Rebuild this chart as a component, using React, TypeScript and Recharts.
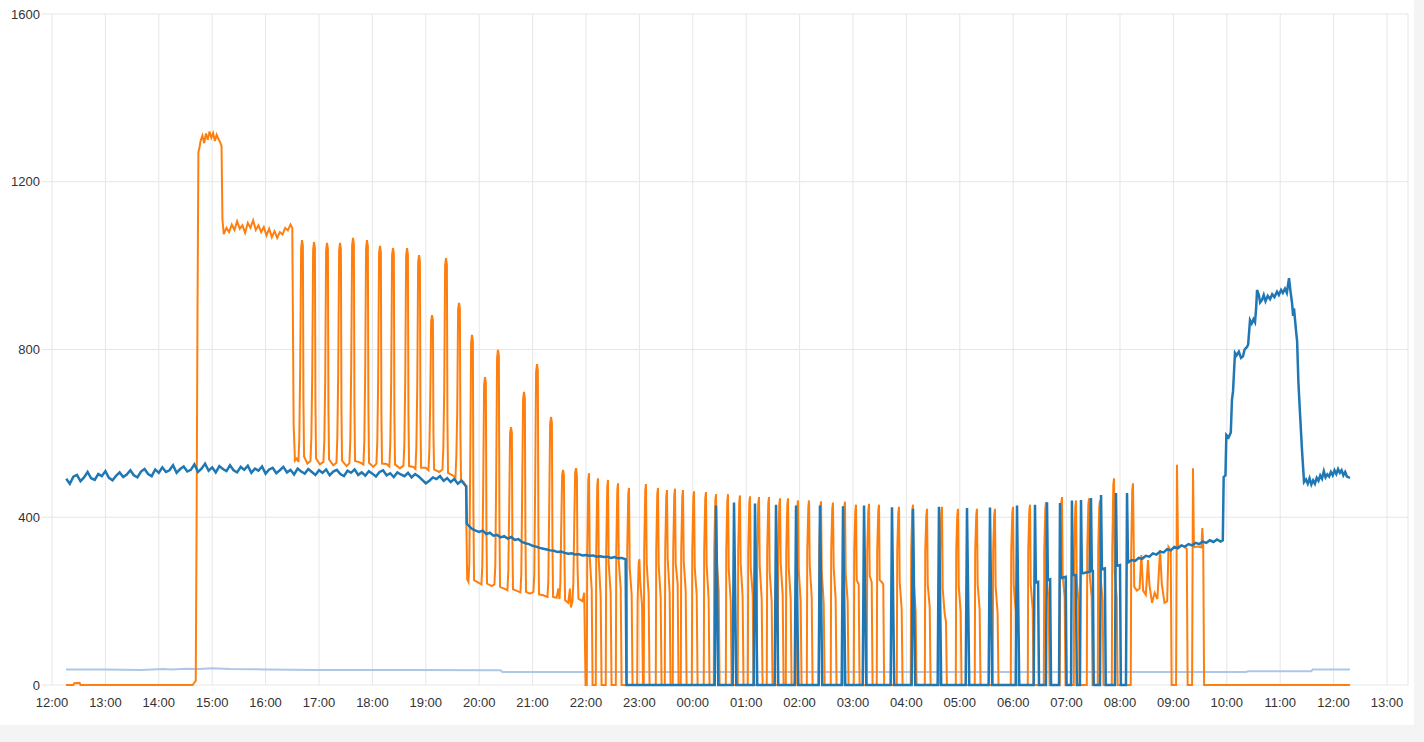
import React from "react";
import { LineChart, Line, XAxis, YAxis, CartesianGrid } from "recharts";

// [minutes since 12:00, value]
type Pt = [number, number];

const hourLabels = [
  "12:00", "13:00", "14:00", "15:00", "16:00", "17:00", "18:00", "19:00", "20:00",
  "21:00", "22:00", "23:00", "00:00", "01:00", "02:00", "03:00", "04:00", "05:00",
  "06:00", "07:00", "08:00", "09:00", "10:00", "11:00", "12:00", "13:00",
];
const valueTicks = [0, 400, 800, 1200, 1600];

// orange: idle, then the long run
const orangeIdle: Pt[] = [
  [15.7, 0], [24, 0], [25, 4], [31, 5], [32, 0], [158, 0], [160, 6], [161.5, 10],
  [162.5, 400], [163.5, 900], [164.5, 1270], [166, 1285],
];

const orangePlateau: Pt[] = [
  [167, 1298], [169, 1310], [171, 1292], [173, 1315], [175, 1300], [177, 1320], [179, 1305],
  [181, 1316], [183, 1297], [185, 1312], [187, 1302], [189, 1294], [190.5, 1285], [191.5, 1110],
  [193, 1075], [196, 1090], [199, 1080], [202, 1098], [205, 1085], [208, 1106], [211, 1088],
  [214, 1096], [217, 1078], [220, 1102], [223, 1090], [226, 1108], [229, 1085], [232, 1096],
  [235, 1080], [238, 1092], [241, 1072], [244, 1088], [247, 1068], [250, 1082], [253, 1066],
  [256, 1080], [259, 1074], [262, 1090], [265, 1084], [268, 1098], [270, 1090], [271.5, 620],
  [273, 535],
];

const orangeHighPulses: Pt[] = [
  [275, 540], [276.9, 532], [277.9, 590], [278.9, 760], [279.9, 1040], [280.9, 1061], [281.9, 1048], [282.5, 680], [283.2, 545],
  [287, 528], [290.4, 534], [291.4, 590], [292.4, 740], [293.4, 1038], [294.4, 1056], [295.4, 1042], [296, 670], [296.7, 540],
  [301, 526], [305, 532], [306, 585], [307, 730], [308, 1036], [309, 1054], [310, 1040], [310.6, 660], [311.3, 538],
  [316, 524], [319.6, 530], [320.6, 590], [321.6, 745], [322.6, 1035], [323.6, 1054], [324.6, 1040], [325.2, 660], [325.9, 535],
  [331, 522], [334.2, 529], [335.2, 585], [336.2, 760], [337.2, 1048], [338.2, 1066], [339.2, 1050], [339.8, 670], [340.5, 534],
  [346, 531], [349.9, 526], [350.9, 580], [351.9, 740], [352.9, 1042], [353.9, 1061], [354.9, 1046], [355.5, 665], [356.2, 530],
  [361, 520], [364.5, 528], [365.5, 580], [366.5, 730], [367.5, 1030], [368.5, 1047], [369.5, 1032], [370.1, 650], [370.8, 528],
  [376, 527], [379.1, 521], [380.1, 575], [381.1, 720], [382.1, 1025], [383.1, 1042], [384.1, 1028], [384.7, 650], [385.4, 526],
  [391, 517], [394.9, 523], [395.9, 575], [396.9, 725], [397.9, 1024], [398.9, 1042], [399.9, 1026], [400.5, 645], [401.2, 522],
  [406, 520], [408.4, 515], [409.4, 570], [410.4, 710], [411.4, 1008], [412.4, 1025], [413.4, 1010], [414, 640], [414.7, 518],
  [420, 518], [423, 512], [424, 560], [425, 680], [426, 868], [427, 882], [428, 870], [428.6, 600], [429.3, 514],
  [435, 508], [438.7, 514], [439.7, 565], [440.7, 700], [441.7, 1000], [442.7, 1018], [443.7, 1002], [444.3, 630], [445, 506],
  [450, 500], [453.3, 494], [454.3, 545], [455.3, 650], [456.3, 895], [457.3, 911], [458.3, 898], [458.9, 600], [459.6, 490],
  [463, 483], [465, 472],
];

const orangeMidPulses: Pt[] = [
  [466.5, 252], [467.9, 246], [468.9, 290], [469.9, 520], [470.9, 815], [471.9, 835], [472.9, 820], [473.5, 420], [474.2, 250],
  [479, 244], [482.5, 240], [483.5, 285], [484.5, 470], [485.5, 715], [486.5, 734], [487.5, 720], [488.1, 380], [488.8, 242],
  [494, 236], [497.1, 240], [498.1, 285], [499.1, 500], [500.1, 780], [501.1, 799], [502.1, 785], [502.7, 400], [503.4, 234],
  [508, 230], [511.7, 226], [512.7, 270], [513.7, 420], [514.7, 600], [515.7, 615], [516.7, 602], [517.3, 350], [518, 228],
  [523, 224], [526.3, 221], [527.3, 265], [528.3, 460], [529.3, 680], [530.3, 699], [531.3, 684], [531.9, 370], [532.6, 222],
  [537, 218], [540.9, 222], [541.9, 265], [542.9, 480], [543.9, 745], [544.9, 765], [545.9, 750], [546.5, 380], [547.2, 216],
  [552, 214], [556.7, 210], [557.7, 250], [558.7, 430], [559.7, 622], [560.7, 639], [561.7, 625], [562.3, 340], [563, 210],
  [567, 208], [569, 230], [570.2, 205], [571.2, 245], [572.2, 380], [573.2, 500], [574.2, 513], [575.2, 500], [575.8, 300], [576.5, 202],
  [580, 196], [582, 230], [583, 185], [584.8, 200], [585.8, 245], [586.8, 380], [587.8, 505], [588.8, 517], [589.8, 500], [590.4, 290],
  [591.5, 206], [596, 200], [598, 220], [599.5, 0],
];

const orangeNightPulses: Pt[] = [
  [600.9, 0], [601.4, 320], [602.6, 490], [603.4, 505], [604.2, 305], [606.4, 228], [607.4, 0],
  [611, 0], [611.5, 320], [612.7, 478], [613.5, 493], [614.3, 300], [616.5, 210], [617.5, 0],
  [622.2, 0], [622.7, 320], [623.9, 474], [624.7, 489], [625.5, 290], [627.7, 220], [628.7, 0],
  [633.5, 0], [634, 320], [635.2, 466], [636, 481], [636.8, 295], [639, 230], [640, 0],
  [645.8, 0], [646.3, 320], [647.5, 455], [648.3, 470], [649.1, 280], [651.3, 215], [652.3, 0],
  [657.5, 0], [658, 200], [659.2, 290], [660, 300], [660.8, 250], [663, 190], [664, 0],
  [664.9, 0], [665.4, 320], [666.6, 464], [667.4, 479], [668.2, 290], [670.4, 215], [671.4, 0],
  [678.4, 0], [678.9, 320], [680.1, 455], [680.9, 470], [681.7, 285], [683.9, 210], [684.9, 0],
  [688.5, 0], [689, 320], [690.2, 450], [691, 465], [691.8, 300], [694, 220], [695, 0],
  [697.5, 0], [698, 320], [699.2, 453], [700, 468], [700.8, 290], [703, 240], [704, 0],
  [706.5, 0], [707, 320], [708.2, 450], [709, 465], [709.8, 295], [712, 225], [713, 0],
  [718.9, 0], [719.4, 320], [720.6, 447], [721.4, 462], [722.2, 280], [724.4, 215], [725.4, 0],
  [732.3, 0], [732.8, 320], [734, 445], [734.8, 460], [735.6, 285], [737.8, 205], [738.8, 0],
  [743.6, 0], [744.1, 320], [745.3, 440], [746.1, 455], [746.9, 300], [749.1, 225], [750.1, 0],
  [757.1, 0], [757.6, 320], [758.8, 440], [759.6, 455], [760.4, 275], [762.6, 200], [763.6, 0],
  [770.5, 0], [771, 320], [772.2, 437], [773, 452], [773.8, 290], [776, 210], [777, 0],
  [781.8, 0], [782.3, 320], [783.5, 435], [784.3, 450], [785.1, 280], [787.3, 215], [788.3, 0],
  [791.9, 0], [792.4, 320], [793.6, 433], [794.4, 448], [795.2, 285], [797.4, 205], [798.4, 0],
  [803.1, 0], [803.6, 320], [804.8, 433], [805.6, 448], [806.4, 270], [808.6, 200], [809.6, 0],
  [815.5, 0], [816, 320], [817.2, 430], [818, 445], [818.8, 290], [821, 215], [822, 0],
  [824.5, 0], [825, 320], [826.2, 430], [827, 445], [827.8, 280], [830, 205], [831, 0],
  [835.7, 0], [836.2, 320], [837.4, 425], [838.2, 440], [839, 275], [841.2, 200], [842.2, 0],
  [848.1, 0], [848.6, 320], [849.8, 425], [850.6, 440], [851.4, 285], [853.6, 210], [854.6, 0],
  [861.6, 0], [862.1, 320], [863.3, 423], [864.1, 438], [864.9, 270], [867.1, 195], [868.1, 0],
  [875, 0], [875.5, 320], [876.7, 420], [877.5, 435], [878.3, 280], [880.5, 205], [881.5, 0],
  [888.5, 0], [889, 320], [890.2, 422], [891, 437], [891.8, 265], [894, 200], [895, 0],
  [900.9, 0], [901.4, 320], [902.6, 415], [903.4, 430], [904.2, 250], [906.4, 240], [907.4, 0],
  [915.5, 0], [916, 320], [917.2, 417], [918, 432], [918.8, 260], [921, 245], [922, 0],
  [926.7, 0], [927.2, 320], [928.4, 415], [929.2, 430], [930, 250], [932.5, 245], [934, 240], [935, 0],
  [949.2, 0], [949.7, 320], [950.9, 410], [951.7, 425], [952.5, 245], [954.7, 180], [955.7, 0],
  [964.9, 0], [965.4, 320], [966.6, 415], [967.4, 430], [968.2, 245], [970.4, 175], [971.4, 0],
  [980.7, 0], [981.2, 320], [982.4, 405], [983.2, 420], [984, 240], [986.2, 185], [987.2, 0],
  [997.5, 0], [998, 320], [999.2, 410], [1000, 425], [1000.8, 230], [1003, 170], [1004.5, 150], [1005.5, 0],
  [1015.5, 0], [1016, 320], [1017.2, 405], [1018, 420], [1018.8, 235], [1021, 175], [1022, 0],
  [1036.8, 0], [1037.3, 320], [1038.5, 405], [1039.3, 420], [1040.1, 240], [1042.3, 180], [1043.3, 0],
  [1057, 0], [1057.5, 320], [1058.7, 405], [1059.5, 420], [1060.3, 235], [1062.5, 170], [1063.5, 0],
  [1077.3, 0], [1077.8, 320], [1079, 410], [1079.8, 425], [1080.6, 240], [1082.8, 175], [1083.8, 0],
  [1096.4, 0], [1096.9, 320], [1098.1, 415], [1098.9, 430], [1099.7, 240], [1101.9, 180], [1102.9, 0],
  [1114.4, 0], [1114.9, 320], [1116.1, 421], [1116.9, 436], [1117.7, 255], [1119.9, 200], [1120.9, 0],
  [1132.3, 0], [1132.8, 320], [1134, 433], [1134.8, 448], [1135.6, 260], [1137.8, 210], [1138.8, 0],
  [1148.1, 0], [1148.6, 320], [1149.8, 425], [1150.6, 440], [1151.4, 250], [1153.6, 195], [1154.6, 0],
  [1162.7, 0], [1163.2, 320], [1164.4, 430], [1165.2, 445], [1166, 260], [1168.2, 210], [1169.2, 0],
  [1175, 0], [1175.5, 320], [1176.7, 425], [1177.5, 440], [1178.3, 255], [1180.5, 200], [1181.5, 0],
  [1190.8, 0], [1191.3, 320], [1192.5, 478], [1193.3, 493], [1194.1, 270], [1196.3, 210], [1197.3, 0],
  [1212.1, 0], [1212.6, 320], [1213.8, 466], [1214.6, 481],
];

const orangeTail: Pt[] = [
  [1216, 234], [1219, 225], [1222, 230], [1224, 310], [1226, 225], [1229, 215], [1231.5, 298],
  [1233, 240], [1236, 196], [1239, 220], [1242, 205], [1245, 322], [1247, 240], [1250, 196],
  [1253, 200], [1254.5, 329], [1257, 320], [1258, 0], [1263, 0], [1264, 525], [1265.2, 329],
  [1270, 332], [1275, 325], [1276, 0], [1281, 0], [1282, 517], [1283.1, 329], [1288, 330],
  [1291.5, 328], [1292.5, 374], [1293.5, 330], [1294.5, 0], [1458.4, 0],
];

// dark blue
const blueDay: Pt[] = [
  [16, 492], [20, 480], [24, 497], [28, 501], [32, 486], [36, 495], [40, 508], [44, 493],
  [48, 489], [52, 503], [56, 498], [60, 510], [64, 494], [68, 488], [72, 499], [76, 507],
  [80, 496], [84, 502], [88, 512], [92, 500], [96, 495], [100, 509], [104, 515], [108, 503],
  [112, 498], [116, 514], [120, 506], [124, 519], [128, 508], [132, 512], [136, 524], [140, 506],
  [144, 515], [148, 521], [152, 509], [156, 513], [160, 526], [164, 508], [168, 516], [172, 528],
  [176, 511], [180, 519], [184, 507], [188, 522], [192, 515], [196, 510], [200, 524], [204, 512],
  [208, 507], [212, 520], [216, 513], [220, 523], [224, 506], [228, 516], [232, 511], [236, 521],
  [240, 504], [244, 514], [248, 518], [252, 505], [256, 512], [260, 520], [264, 507], [268, 513],
  [272, 502], [276, 516], [280, 509], [284, 504], [288, 515], [292, 508], [296, 501], [300, 512],
  [304, 506], [308, 514], [312, 500], [316, 509], [320, 513], [324, 503], [328, 498], [332, 511],
  [336, 506], [340, 514], [344, 501], [348, 507], [352, 499], [356, 510], [360, 504], [364, 497],
  [368, 508], [372, 512], [376, 500], [380, 505], [384, 496], [388, 507], [392, 502], [396, 498],
  [400, 506], [404, 495], [408, 503], [412, 497], [416, 489], [420, 481], [424, 487], [428, 495],
  [432, 491], [436, 498], [440, 487], [444, 493], [448, 484], [452, 491], [456, 480], [460, 487],
  [464, 477], [465.5, 474],
];

const blueEvening: Pt[] = [
  [466, 385], [469, 378], [472, 372], [476, 368], [480, 365], [484, 368], [488, 360], [492, 363],
  [496, 356], [500, 358], [504, 352], [508, 355], [512, 349], [516, 353], [520, 346], [524, 348],
  [528, 341], [532, 338], [536, 336], [540, 332], [544, 330], [548, 327], [552, 325], [556, 323],
  [560, 321], [564, 320], [568, 317], [572, 318], [576, 315], [580, 313], [584, 314], [588, 311],
  [592, 312], [596, 309], [600, 310], [604, 308], [608, 309], [612, 306], [616, 307], [620, 305],
  [624, 306], [628, 303], [632, 305], [636, 302], [640, 303], [644.5, 300], [645.5, 0],
];

const blueNight: Pt[] = [
  [744.6, 0], [746.1, 428], [747.1, 280], [748.6, 0],
  [764.8, 0], [766.3, 435], [767.3, 270], [768.8, 0],
  [788.4, 0], [789.9, 433], [790.9, 275], [792.4, 0],
  [812, 0], [813.5, 430], [814.5, 270], [816, 0],
  [834.5, 0], [836, 428], [837, 265], [838.5, 0],
  [861.4, 0], [862.9, 428], [863.9, 270], [865.4, 0],
  [887.3, 0], [888.8, 426], [889.8, 260], [891.3, 0],
  [910.9, 0], [912.4, 428], [913.4, 265], [914.9, 0],
  [942.3, 0], [943.8, 424], [944.8, 260], [946.3, 0],
  [965.9, 0], [967.4, 420], [968.4, 255], [969.9, 0],
  [995.1, 0], [996.6, 425], [997.6, 260], [999.1, 0],
  [1026.6, 0], [1028.1, 422], [1029.1, 255], [1030.6, 0],
  [1052.4, 0], [1053.9, 423], [1054.9, 250], [1056.4, 0],
  [1082.8, 0], [1084.3, 428], [1085.3, 255], [1086.8, 0],
  [1103, 0], [1104.5, 430], [1105.5, 245], [1108, 246], [1109, 0],
  [1116.8, 0], [1118, 436], [1119, 250], [1121.5, 252], [1122.5, 0],
  [1131.5, 0], [1132.6, 434], [1133.6, 255], [1139, 258], [1140, 0],
  [1145, 0], [1146, 440], [1147, 262], [1150.5, 262], [1151.5, 0],
  [1155, 0], [1156.2, 441], [1157.2, 266], [1166, 270],
  [1167.4, 446], [1168.4, 272], [1169.5, 272], [1170.5, 0],
  [1177.5, 0], [1178.7, 453], [1179.7, 276], [1183, 278], [1184, 0],
  [1194.3, 0], [1195.5, 458], [1196.5, 284], [1200, 286], [1201, 0],
  [1206.7, 0], [1207.9, 458], [1209, 292],
];

const blueMorning: Pt[] = [
  [1213, 298], [1217, 296], [1221, 303], [1225, 301], [1229, 308], [1233, 306], [1237, 314],
  [1241, 311], [1245, 318], [1249, 316], [1253, 324], [1257, 321], [1261, 329], [1265, 326],
  [1269, 333], [1273, 330], [1277, 336], [1281, 333], [1285, 339], [1289, 336], [1293, 342],
  [1297, 339], [1301, 345], [1305, 341], [1309, 347], [1313, 342], [1315.5, 345], [1316.5, 496],
  [1318.5, 500], [1319.5, 596], [1322, 590], [1324.5, 602], [1325.8, 680], [1327, 700],
  [1329.2, 792], [1331, 786], [1333.5, 795], [1336, 780], [1338.2, 784], [1340, 800],
  [1342.7, 806], [1344, 812], [1346.1, 870], [1348, 862], [1350, 872], [1351.7, 865],
  [1353, 900], [1354, 942], [1356, 930], [1357.5, 912], [1359.6, 918], [1361.5, 930],
  [1363.5, 915], [1366, 928], [1368.6, 920], [1371, 932], [1373.5, 925], [1376.4, 938],
  [1378.5, 930], [1381, 942], [1383, 935], [1385.4, 945], [1387.5, 935], [1389.9, 970],
  [1391.5, 940], [1393.3, 911], [1394.5, 880], [1395.5, 898], [1396.7, 870], [1398, 840],
  [1399, 820], [1400.5, 720], [1402.2, 650], [1404.5, 560], [1406.8, 484], [1409, 490],
  [1411, 480], [1413, 493], [1415, 478], [1417, 488], [1419, 480], [1421, 494], [1423, 487],
  [1425, 500], [1427, 492], [1429, 510], [1431, 495], [1433, 502], [1435, 497], [1437, 508],
  [1439, 500], [1441, 512], [1443, 503], [1445, 515], [1447, 506], [1449, 512], [1451, 500],
  [1453, 508], [1455, 497], [1458.4, 494],
];

// light blue
const lightBlue: Pt[] = [
  [15.7, 37], [60, 37], [100, 36], [125, 38], [135, 37], [150, 39], [165, 38], [180, 40],
  [200, 38], [240, 37], [300, 36], [400, 36], [504, 35], [506, 31], [1342, 31], [1344, 33],
  [1415, 33], [1416.5, 37], [1458.4, 37],
];

const rows = (pts: Pt[]) => pts.map(([t, v]) => ({ t, v }));

const orangeData = rows([
  ...orangeIdle, ...orangePlateau, ...orangeHighPulses, ...orangeMidPulses,
  ...orangeNightPulses, ...orangeTail,
]);
const blueData = rows([...blueDay, ...blueEvening, ...blueNight, ...blueMorning]);
const lightBlueData = rows(lightBlue);

const hourTicks = hourLabels.map((_, i) => i * 60);
const tickStyle = { fontSize: 13, fill: "#333", fontFamily: "'Liberation Sans', Arial, sans-serif" };

export default function App() {
  return (
    <div style={{ position: "absolute", left: 0, top: 0, width: 1424, height: 742, background: "#f4f4f4" }}>
      <div style={{ width: 1414, height: 725, background: "#fff" }}>
        <LineChart width={1414} height={725} margin={{ top: 14, right: 6, left: 0, bottom: 0 }}>
          <CartesianGrid stroke="#e6e6e6" />
          <XAxis
            dataKey="t"
            type="number"
            domain={[0, 1523.6]}
            ticks={hourTicks}
            interval={0}
            tickFormatter={(m: number) => hourLabels[Math.round(m / 60)]}
            tick={tickStyle}
            axisLine={false}
            tickLine={false}
            tickSize={10}
            tickMargin={3}
            height={40}
            allowDataOverflow
          />
          <YAxis
            type="number"
            domain={[0, 1600]}
            ticks={valueTicks}
            interval={0}
            tick={tickStyle}
            axisLine={false}
            tickLine={{ stroke: "#e6e6e6" }}
            tickSize={10}
            tickMargin={2}
            width={52}
          />
          <Line data={lightBlueData} dataKey="v" type="linear" stroke="#aec7e8" strokeWidth={2} dot={false} isAnimationActive={false} />
          <Line data={orangeData} dataKey="v" type="linear" stroke="#ff7f0e" strokeWidth={2} dot={false} isAnimationActive={false} />
          <Line data={blueData} dataKey="v" type="linear" stroke="#1f77b4" strokeWidth={2.5} dot={false} isAnimationActive={false} />
        </LineChart>
      </div>
    </div>
  );
}
